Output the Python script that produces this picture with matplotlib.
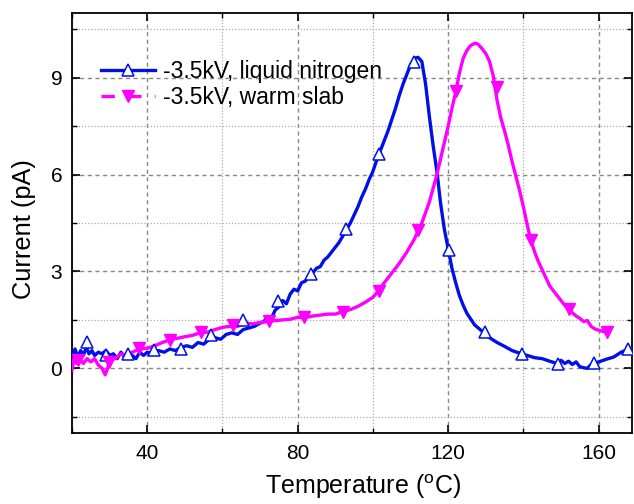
import numpy as np
import matplotlib
matplotlib.use("Agg")
import matplotlib.pyplot as plt
from matplotlib.ticker import MultipleLocator

plt.rcParams['font.family'] = ['Liberation Sans', 'DejaVu Sans']
plt.rcParams['mathtext.fontset'] = 'custom'
plt.rcParams['mathtext.rm'] = 'Liberation Sans'

# liquid nitrogen curve
ln_x = [20, 20.8, 21.5, 22.3, 23, 23.8, 24.5, 25.3, 26, 27, 28, 29, 30, 31, 32, 33, 34, 35, 36, 37, 38, 39,
        40, 41.5, 43, 44.5, 46, 47.5, 49, 50.5, 52, 53.5, 55, 56.5, 58, 59.5, 61, 62.5, 64, 65.5, 67, 68.5,
        70, 71, 72, 73, 74, 75, 76, 77, 78, 79, 80, 81, 82, 83, 84, 85, 86, 87, 88, 89, 90, 91, 92, 93, 94,
        95, 96, 97, 98, 99, 100, 101, 102, 103, 104, 105, 106, 107, 108, 109, 110, 111, 112, 113, 114, 115,
        116, 117, 118, 119, 120, 121, 122, 123, 124, 125, 127, 129, 131, 133, 135, 137, 139, 141, 143, 145,
        147, 149, 150, 151, 152, 153, 154, 155, 156, 157, 158, 160, 162, 164, 166, 168, 169]
ln_y = [0.3, 0.6, 0.35, 0.55, 0.4, 0.65, 0.45, 0.55, 0.4, 0.5, 0.45, 0.55, 0.4, 0.45, 0.3, 0.5, 0.35, 0.45, 0.4, 0.3, 0.5, 0.4,
        0.5, 0.45, 0.55, 0.5, 0.6, 0.55, 0.65, 0.7, 0.65, 0.8, 0.75, 0.9, 0.95, 0.9, 1.05, 1.1, 1.05, 1.2, 1.25, 1.3,
        1.4, 1.45, 1.6, 1.55, 1.8, 1.9, 2.1, 2.0, 2.3, 2.45, 2.4, 2.65, 2.7, 2.85, 2.95, 3.1, 3.15, 3.35, 3.45, 3.6, 3.75, 3.9, 4.1, 4.3, 4.5,
        4.75, 5.0, 5.3, 5.55, 5.85, 6.1, 6.45, 6.75, 7.05, 7.35, 7.7, 8.05, 8.45, 8.8, 9.1, 9.4, 9.6, 9.63, 9.5, 8.8, 7.8,
        6.9, 6.1, 5.1, 4.3, 3.7, 3.1, 2.65, 2.25, 1.95, 1.7, 1.35, 1.15, 0.95, 0.8, 0.68, 0.55, 0.47, 0.4, 0.33, 0.3,
        0.22, 0.15, 0.25, 0.15, 0.22, 0.12, 0.2, 0.05, 0.02, 0.0, 0.12, 0.2, 0.28, 0.35, 0.5, 0.6, 0.62]
ln_mx = [24.1, 29.0, 34.8, 41.9, 49.0, 57.0, 65.4, 74.7, 83.6, 92.9, 101.7, 111.0, 120.2, 129.7, 139.5, 149.2, 158.7, 167.8]
ln_my = [0.81, 0.40, 0.45, 0.56, 0.61, 1.02, 1.50, 2.10, 2.93, 4.32, 6.64, 9.50, 3.67, 1.12, 0.45, 0.14, 0.17, 0.59]

# warm slab curve
ws_x = [20, 20.6, 21.2, 22, 23, 24, 25, 26, 27, 28, 28.8, 29.6, 30.5, 31.5, 33, 34.5, 36, 38, 40, 42, 44, 46, 48,
        50, 52, 54, 56, 58, 60, 62, 64, 66, 68, 70, 72, 74, 76, 78, 80, 82, 84, 86, 88, 90, 92, 94, 96, 98, 100,
        101.5, 103, 105, 107, 109, 111, 113, 115, 117, 119, 120, 121, 122, 123, 124, 125, 126, 127, 127.5, 128,
        129, 130, 131, 132, 133, 134, 135, 136, 137, 138, 139, 140, 141, 142, 143, 144, 145, 146, 147, 148, 149,
        150, 151, 152, 153, 154, 155, 156, 157, 158, 159, 160, 161, 162]
ws_y = [-0.05, 0.35, 0.15, 0.3, 0.15, 0.3, 0.2, 0.3, 0.1, 0.0, -0.2, 0.05, 0.35, 0.3, 0.45, 0.4, 0.5, 0.6, 0.62, 0.7, 0.8, 0.88, 0.93,
        0.98, 1.02, 1.1, 1.12, 1.2, 1.27, 1.3, 1.3, 1.4, 1.38, 1.42, 1.45, 1.48, 1.5, 1.52, 1.58, 1.57, 1.62, 1.65, 1.68, 1.68, 1.76, 1.82, 1.92, 2.05, 2.2,
        2.4, 2.65, 2.95, 3.25, 3.6, 4.0, 4.5, 5.15, 6.0, 7.0, 7.5, 8.05, 8.55, 9.15, 9.6, 9.85, 10.0, 10.06, 10.06, 10.03,
        9.9, 9.75, 9.5, 9.05, 8.3, 7.75, 7.35, 6.9, 6.4, 5.95, 5.5, 5.0, 4.45, 3.96, 3.6, 3.3, 3.05, 2.8, 2.55, 2.4, 2.25,
        2.1, 1.95, 1.85, 1.72, 1.62, 1.55, 1.45, 1.48, 1.3, 1.22, 1.18, 1.15, 1.12]
ws_mx = [21.7, 29.8, 37.9, 46.0, 54.3, 62.7, 72.5, 81.8, 92.0, 101.5, 112.0, 122.2, 133.0, 142.1, 152.1, 162.1]
ws_my = [0.25, 0.2, 0.62, 0.88, 1.12, 1.35, 1.46, 1.58, 1.76, 2.39, 4.27, 8.6, 8.7, 3.96, 1.85, 1.12]

blue = '#0010e6'
pink = '#ff00ff'

fig = plt.figure(figsize=(6.34, 5.04), dpi=100)
ax = fig.add_axes([0.1136, 0.141, 0.884, 0.833])

ax.plot(ln_x, ln_y, color=blue, lw=2.4, zorder=3)
ax.plot(ln_mx, ln_my, ls='none', marker='^', ms=8, mfc='white', mec=blue, mew=1.1, zorder=4)
ax.plot(ws_x, ws_y, color=pink, lw=2.4, zorder=3)
ax.plot(ws_mx, ws_my, ls='none', marker='v', ms=8, color=pink, zorder=4)

# legend proxies
ax.plot([], [], color=blue, lw=2.4, marker='^', ms=8, mfc='white', mec=blue, mew=1.1, label='-3.5kV, liquid nitrogen')
ax.plot([], [], color=pink, lw=2.4, ls=(0, (4, 4)), marker='v', ms=8, label='-3.5kV, warm slab')
ax.legend(loc='upper left', bbox_to_anchor=(0.036, 0.91), frameon=False, fontsize=16.5,
          handlelength=2.35, handletextpad=0.35, labelspacing=0.15, borderaxespad=0)

ax.set_xlim(20, 169)
ax.set_ylim(-2, 11)
ax.xaxis.set_major_locator(MultipleLocator(40))
ax.xaxis.set_minor_locator(MultipleLocator(20))
ax.yaxis.set_major_locator(MultipleLocator(3))
ax.yaxis.set_minor_locator(MultipleLocator(1.5))
ax.tick_params(which='both', direction='in', top=True, right=True, labelsize=15)
ax.tick_params(which='major', length=6, width=1.2)
ax.tick_params(which='minor', length=3.5, width=1)
ax.tick_params(axis='x', pad=8)
ax.tick_params(axis='y', pad=7)

ax.grid(which='major', color='#888888', ls=(0, (3, 2.5)), lw=1)
ax.grid(which='minor', color='#aaaaaa', ls=(0, (1, 1.5)), lw=0.9)
ax.set_axisbelow(True)
for s in ax.spines.values():
    s.set_linewidth(1.3)

ax.set_xlabel(r'Temperature ($^{\mathrm{o}}$C)', fontsize=18)
ax.set_ylabel('Current (pA)', fontsize=18.3)
ax.xaxis.set_label_coords(0.52, -0.093)
ax.yaxis.set_label_coords(-0.064, 0.485)

fig.savefig('out.png', dpi=100)
